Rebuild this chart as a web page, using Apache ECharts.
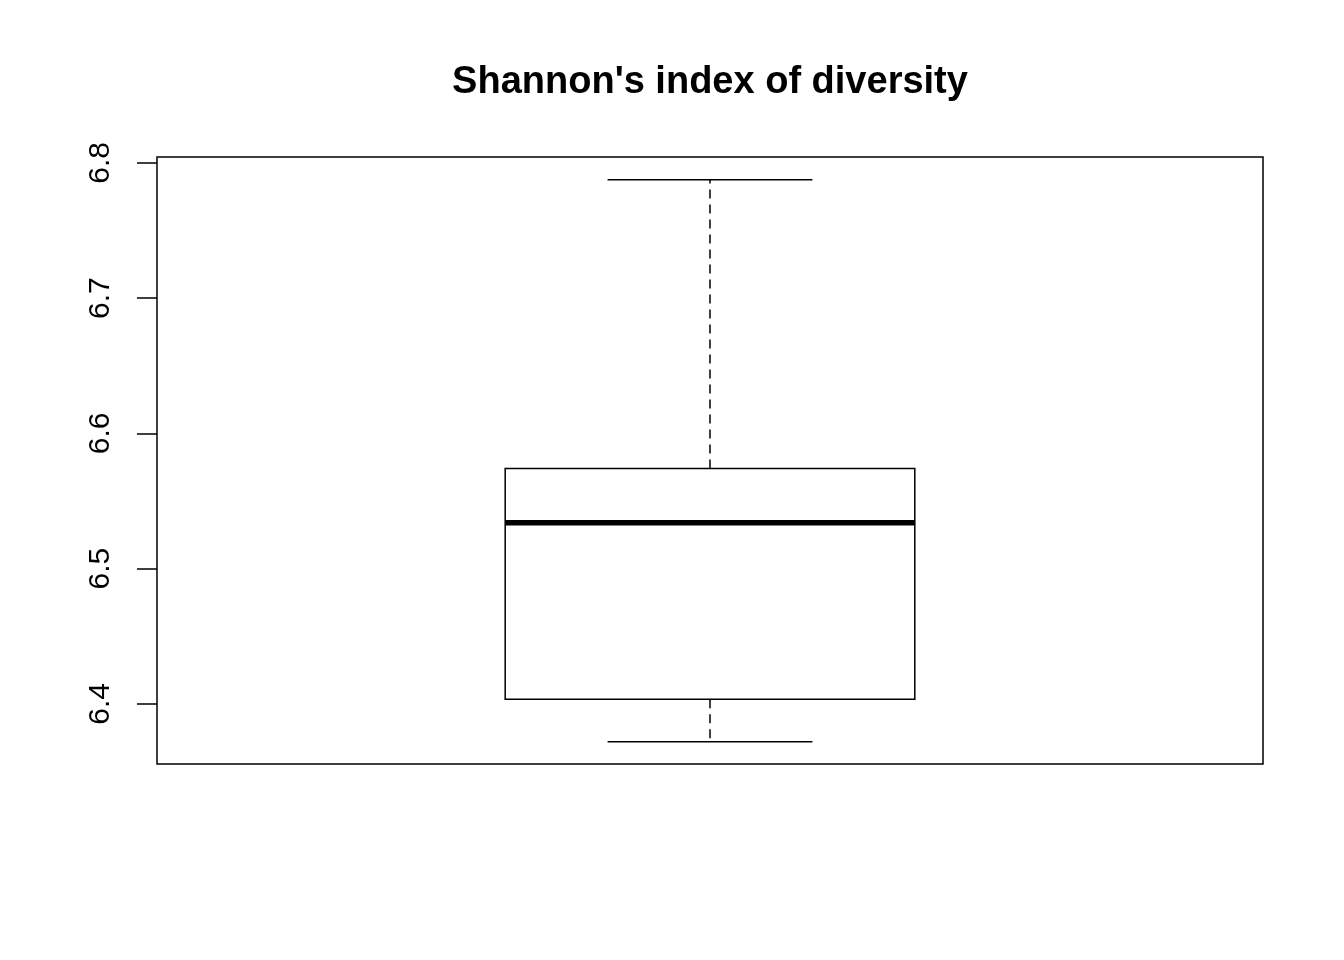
<!DOCTYPE html>
<html>
<head>
<meta charset="utf-8">
<script src="https://cdn.jsdelivr.net/npm/echarts@6/dist/echarts.min.js"></script>
<style>
html,body{margin:0;padding:0;background:#fff;}
#chart{width:1344px;height:960px;}
</style>
</head>
<body>
<div id="chart"></div>
<script>
const titleText = "Shannon's index of diversity";
const positions = [1];
const lowValues = [6.372];
const q1Values = [6.4035];
const medianValues = [6.534];
const q3Values = [6.574];
const highValues = [6.7875];
const yTicks = [6.4, 6.5, 6.6, 6.7, 6.8];

const data = positions.map((p, i) => [p, lowValues[i], q1Values[i], medianValues[i], q3Values[i], highValues[i]]);

const chart = echarts.init(document.getElementById('chart'));
chart.setOption({
  backgroundColor: '#fff',
  animation: false,
  title: {
    text: titleText,
    left: 705, top: 59, textAlign: 'center',
    textStyle: { fontFamily: 'Liberation Sans', fontWeight: 'bold', fontSize: 38, color: '#000' }
  },
  grid: { left: 157, right: 81, top: 157, bottom: 196, show: true, borderColor: '#000', borderWidth: 1.5, backgroundColor: 'transparent' },
  xAxis: { type: 'value', min: 0.46, max: 1.54, show: false },
  yAxis: {
    type: 'value', min: 6.3556, max: 6.8044,
    splitLine: { show: false },
    axisLine: { show: false },
    axisTick: { show: true, length: 20, customValues: yTicks, lineStyle: { color: '#000', width: 1.5 } },
    axisLabel: {
      customValues: yTicks, rotate: 90, margin: 41,
      formatter: v => v.toFixed(1),
      fontFamily: 'Liberation Sans', fontSize: 30, color: '#000'
    }
  },
  series: [{
    type: 'custom',
    data: data,
    encode: { x: 0, y: [1, 2, 3, 4, 5] },
    renderItem: function (params, api) {
      const x = api.value(0);
      const lo = api.coord([x - 0.2, api.value(2)]);
      const hi = api.coord([x + 0.2, api.value(4)]);
      const med = api.coord([x, api.value(3)]);
      const wlo = api.coord([x, api.value(1)]);
      const whi = api.coord([x, api.value(5)]);
      const c1 = api.coord([x - 0.1, 0])[0];
      const c2 = api.coord([x + 0.1, 0])[0];
      const cx = med[0];
      const line = { stroke: '#000', lineWidth: 1.5 };
      const dash = { stroke: '#000', lineWidth: 1.5, lineDash: [9, 6] };
      return {
        type: 'group',
        children: [
          { type: 'line', shape: { x1: cx, y1: hi[1], x2: cx, y2: whi[1] }, style: dash },
          { type: 'line', shape: { x1: cx, y1: lo[1], x2: cx, y2: wlo[1] }, style: dash },
          { type: 'line', shape: { x1: c1, y1: whi[1], x2: c2, y2: whi[1] }, style: line },
          { type: 'line', shape: { x1: c1, y1: wlo[1], x2: c2, y2: wlo[1] }, style: line },
          { type: 'rect', shape: { x: lo[0], y: hi[1], width: hi[0] - lo[0], height: lo[1] - hi[1] }, style: { fill: '#fff', stroke: '#000', lineWidth: 1.5 } },
          { type: 'line', shape: { x1: lo[0], y1: med[1], x2: hi[0], y2: med[1] }, style: { stroke: '#000', lineWidth: 5.5 } }
        ]
      };
    }
  }]
});
</script>
</body>
</html>
